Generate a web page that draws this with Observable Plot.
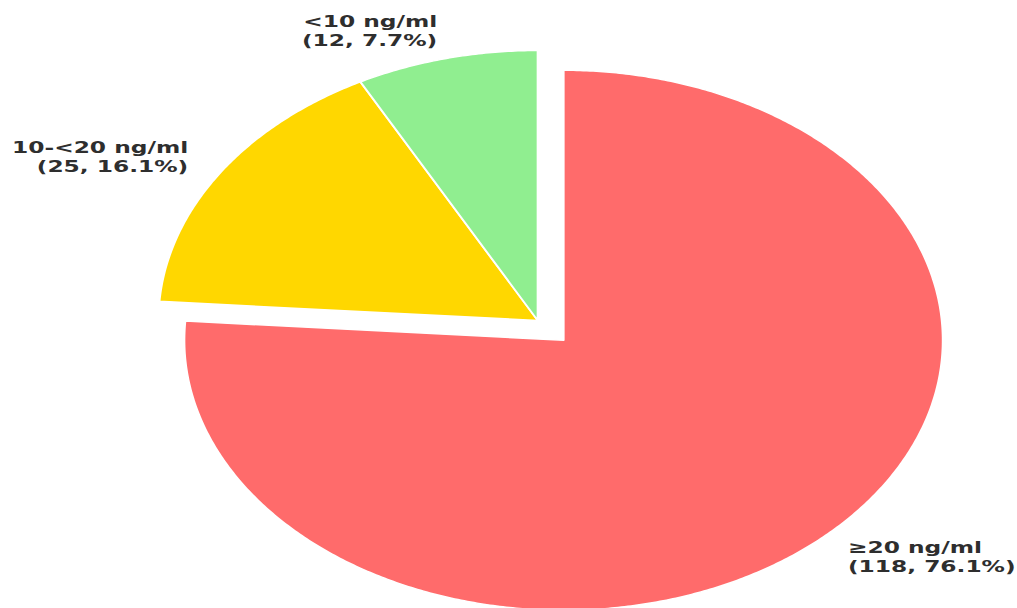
<!DOCTYPE html>
<html><head><meta charset="utf-8">
<script src="https://cdn.jsdelivr.net/npm/d3@7"></script>
<script src="https://cdn.jsdelivr.net/npm/@observablehq/plot@0.6"></script>
<style>html,body{margin:0;padding:0;background:#fff;overflow:hidden;}</style>
</head><body><div id="chart"></div>
<script>
// Data
const labels = ["≥20 ng/ml", "10-<20 ng/ml", "<10 ng/ml"];
const counts = [118, 25, 12];
const colors = ["#FF6B6B", "#FFD700", "#90EE90"];
const explode = [0.1, 0, 0];

// Layout (inner drawing is a circle, stretched horizontally to the page)
const W = 724, H = 608, outerW = 1017;
const cx = 382.3, cy = 320, R = 270;

const total = d3.sum(counts);
const polyRows = [];
const textRows = [];
let a = 90; // start at top, go clockwise
labels.forEach((lab, i) => {
  const span = counts[i] / total * 360;
  const a0 = a, a1 = a - span;
  const mid = (a0 + a1) / 2 * Math.PI / 180;
  const ox = explode[i] * Math.cos(mid), oy = explode[i] * Math.sin(mid);
  polyRows.push({slice: lab, x: ox, y: oy});
  const n = Math.max(4, Math.ceil(span * 2));
  for (let k = 0; k <= n; k++) {
    const t = (a0 + (a1 - a0) * k / n) * Math.PI / 180;
    polyRows.push({slice: lab, x: ox + Math.cos(t), y: oy + Math.sin(t)});
  }
  polyRows.push({slice: lab, x: ox, y: oy});
  const pct = (counts[i] / total * 100).toFixed(1);
  textRows.push({
    slice: lab,
    text: `${lab}\n(${counts[i]}, ${pct}%)`,
    x: ox + 1.1 * Math.cos(mid),
    y: oy + 1.1 * Math.sin(mid),
    side: Math.cos(mid) > 0 ? "start" : "end"
  });
  a = a1;
});

const textOpts = {
  x: "x", y: "y", text: "text",
  fontWeight: "bold", fontSize: 16.6, lineHeight: 1.17,
  lineAnchor: "middle", fill: "#2e2e2e"
};

const svg = Plot.plot({
  width: W, height: H,
  margin: 0,
  style: {fontFamily: "DejaVu Sans", background: "white"},
  x: {domain: [-1, 1], range: [cx - R, cx + R], axis: null},
  y: {domain: [-1, 1], range: [cy + R, cy - R], axis: null},
  color: {domain: labels, range: colors},
  marks: [
    Plot.line(polyRows, {x: "x", y: "y", z: "slice", fill: "slice", stroke: "white", strokeWidth: 1.5, strokeLinejoin: "round", curve: "linear"}),
    Plot.text(textRows.filter(d => d.side === "start"), {...textOpts, textAnchor: "start", dy: -1}),
    Plot.text(textRows.filter(d => d.side === "end"), {...textOpts, textAnchor: "end", dy: -2})
  ]
});
svg.setAttribute("width", outerW);
svg.setAttribute("height", H);
svg.setAttribute("viewBox", `0 0 ${W} ${H}`);
svg.setAttribute("preserveAspectRatio", "none");
svg.style.width = outerW + "px";
svg.style.height = H + "px";
svg.style.maxWidth = "none";
document.getElementById("chart").appendChild(svg);
</script>
</body></html>
